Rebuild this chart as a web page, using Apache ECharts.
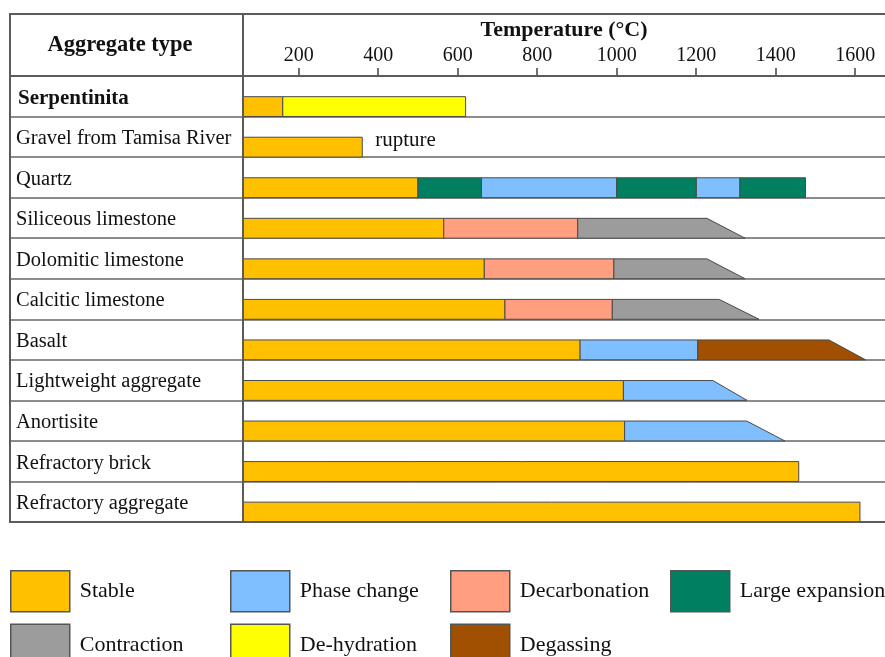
<!DOCTYPE html>
<html>
<head>
<meta charset="utf-8">
<script src="https://cdn.jsdelivr.net/npm/echarts@6/dist/echarts.min.js"></script>
<style>html,body{margin:0;padding:0;background:#fff}#c{width:885px;height:657px}</style>
</head>
<body>
<div id="c"></div>
<script>
// ---- data ----
const categories = ['Serpentinita', 'Gravel from Tamisa River', 'Quartz', 'Siliceous limestone',
  'Dolomitic limestone', 'Calcitic limestone', 'Basalt', 'Lightweight aggregate', 'Anortisite',
  'Refractory brick', 'Refractory aggregate'];
const phases = ['Stable', 'Phase change', 'Decarbonation', 'Large expansion', 'Contraction', 'De-hydration', 'Degassing'];
const phaseColors = ['#FFC000', '#80BFFF', '#FF9F80', '#008060', '#9C9C9C', '#FFFF00', '#A05000'];
const tickValues = [200, 400, 600, 800, 1000, 1200, 1400, 1600];
const startTemp = 60;
// segments: [phase, end temperature]
const serpentinita = [['Stable', 160], ['De-hydration', 620]];
const gravel = [['Stable', 360]];
const quartz = [['Stable', 500], ['Large expansion', 660], ['Phase change', 1000], ['Large expansion', 1200], ['Phase change', 1310], ['Large expansion', 1475]];
const siliceous = [['Stable', 565], ['Decarbonation', 902], ['Contraction', 1227]];
const dolomitic = [['Stable', 667], ['Decarbonation', 993], ['Contraction', 1227]];
const calcitic = [['Stable', 719], ['Decarbonation', 989], ['Contraction', 1258]];
const basalt = [['Stable', 908], ['Phase change', 1204], ['Degassing', 1534]];
const lightweight = [['Stable', 1017], ['Phase change', 1242]];
const anortisite = [['Stable', 1020], ['Phase change', 1327]];
const refractoryBrick = [['Stable', 1458]];
const refractoryAggregate = [['Stable', 1612]];
// gradual end (bottom edge reaches this temperature), null = square end
const taperEnds = [null, null, null, 1323, 1323, 1358, 1626, 1328, 1423, null, null];
const notes = ['', 'rupture', '', '', '', '', '', '', '', '', ''];

const rows = [serpentinita, gravel, quartz, siliceous, dolomitic, calcitic, basalt, lightweight, anortisite, refractoryBrick, refractoryAggregate];

// ---- build series data ----
const seriesData = phases.map(() => []);
rows.forEach((segs, r) => {
  let prev = startTemp;
  segs.forEach((seg, k) => {
    const last = k === segs.length - 1;
    const bottomEnd = (last && taperEnds[r] != null) ? taperEnds[r] : seg[1];
    seriesData[phases.indexOf(seg[0])].push([r, prev, seg[1], bottomEnd, last ? 1 : 0]);
    prev = seg[1];
  });
});

const FONT = 'Liberation Serif';

function renderItem(params, api) {
  const row = api.value(0);
  const s = api.coord([api.value(1), row]);
  const e = api.coord([api.value(2), row]);
  const t = api.coord([api.value(3), row]);
  const bandH = api.size([0, 1])[1];
  const bottom = s[1] + bandH / 2;
  const top = bottom - bandH * 0.49;
  const children = [{
    type: 'polygon',
    shape: { points: [[s[0], top], [e[0], top], [t[0], bottom], [s[0], bottom]] },
    style: { fill: api.visual('color'), stroke: '#4a4a4a', lineWidth: 1 }
  }];
  if (api.value(4) === 1 && notes[row]) {
    children.push({
      type: 'text',
      x: t[0] + 13, y: (top + bottom) / 2 - 7,
      style: { text: notes[row], font: '21px "' + FONT + '"', fill: '#111', verticalAlign: 'middle', align: 'left' }
    });
  }
  return { type: 'group', children };
}

const chart = echarts.init(document.getElementById('c'), null, { renderer: 'canvas' });

const legendCols = [['Stable', 'Contraction'], ['Phase change', 'De-hydration'], ['Decarbonation', 'Degassing'], ['Large expansion']];
const legendLefts = [10, 230, 450, 670];

const option = {
  animation: false,
  backgroundColor: '#fff',
  grid: [
    { left: 243, right: 0, top: 76, bottom: 135 },
    { left: 10, width: 233, top: 76, bottom: 135 }
  ],
  xAxis: [{
    type: 'value', gridIndex: 0, position: 'top', min: startTemp, max: 1675,
    name: 'Temperature (°C)', nameLocation: 'middle', nameGap: 32,
    nameTextStyle: { fontFamily: FONT, fontWeight: 'bold', fontSize: 22, color: '#111' },
    axisLine: { show: false },
    axisTick: { show: true, length: 8, customValues: tickValues, lineStyle: { color: '#444', width: 1.5 } },
    axisLabel: { customValues: tickValues, margin: 10, fontFamily: FONT, fontSize: 20, color: '#111', formatter: v => String(v) },
    splitLine: { show: false }
  }, {
    type: 'value', gridIndex: 1, show: false
  }],
  yAxis: [{
    type: 'category', gridIndex: 0, data: categories, inverse: true,
    axisLine: { show: false }, axisTick: { show: false }, axisLabel: { show: false },
    splitLine: { show: true, lineStyle: { color: '#666', width: 1.5 } }
  }, {
    type: 'category', gridIndex: 1, data: categories, inverse: true,
    axisLine: { show: false }, axisTick: { show: false },
    axisLabel: {
      inside: true, margin: 5, align: 'left', fontFamily: FONT, fontSize: 20.5, color: '#111',
      padding: [4, 0, 0, 1],
      formatter: (v, i) => i === 0 ? '{b|' + v + '}' : v,
      rich: { b: { fontFamily: FONT, fontSize: 21, fontWeight: 'bold', color: '#111', padding: [1, 0, 0, 2] } }
    },
    splitLine: { show: true, lineStyle: { color: '#666', width: 1.5 } }
  }],
  legend: legendCols.map((col, i) => ({
    orient: 'vertical', left: legendLefts[i], top: 570, height: 200, data: col,
    icon: 'rect', itemWidth: 59, itemHeight: 41, itemGap: 11,
    itemStyle: { borderColor: '#555', borderWidth: 1.5 },
    textStyle: { fontFamily: FONT, fontSize: 22, color: '#111', padding: [0, 0, 0, 5] },
    selectedMode: false, padding: 0
  })),
  graphic: [
    { type: 'rect', shape: { x: 10, y: 14, width: 900, height: 508 }, style: { fill: 'none', stroke: '#5b5b5b', lineWidth: 2 }, z: 10 },
    { type: 'line', shape: { x1: 243, y1: 14, x2: 243, y2: 522 }, style: { stroke: '#5b5b5b', lineWidth: 2 }, z: 10 },
    { type: 'line', shape: { x1: 10, y1: 76, x2: 885, y2: 76 }, style: { stroke: '#5b5b5b', lineWidth: 2 }, z: 10 },
    { type: 'text', x: 120, y: 45, style: { text: 'Aggregate type', font: 'bold 22.5px "' + FONT + '"', fill: '#111', align: 'center', verticalAlign: 'middle' }, z: 10 }
  ],
  series: phases.map((p, i) => ({
    name: p, type: 'custom', xAxisIndex: 0, yAxisIndex: 0,
    itemStyle: { color: phaseColors[i] },
    encode: { x: [1, 2, 3], y: 0 },
    renderItem, data: seriesData[i]
  }))
};
chart.setOption(option);
</script>
</body>
</html>
